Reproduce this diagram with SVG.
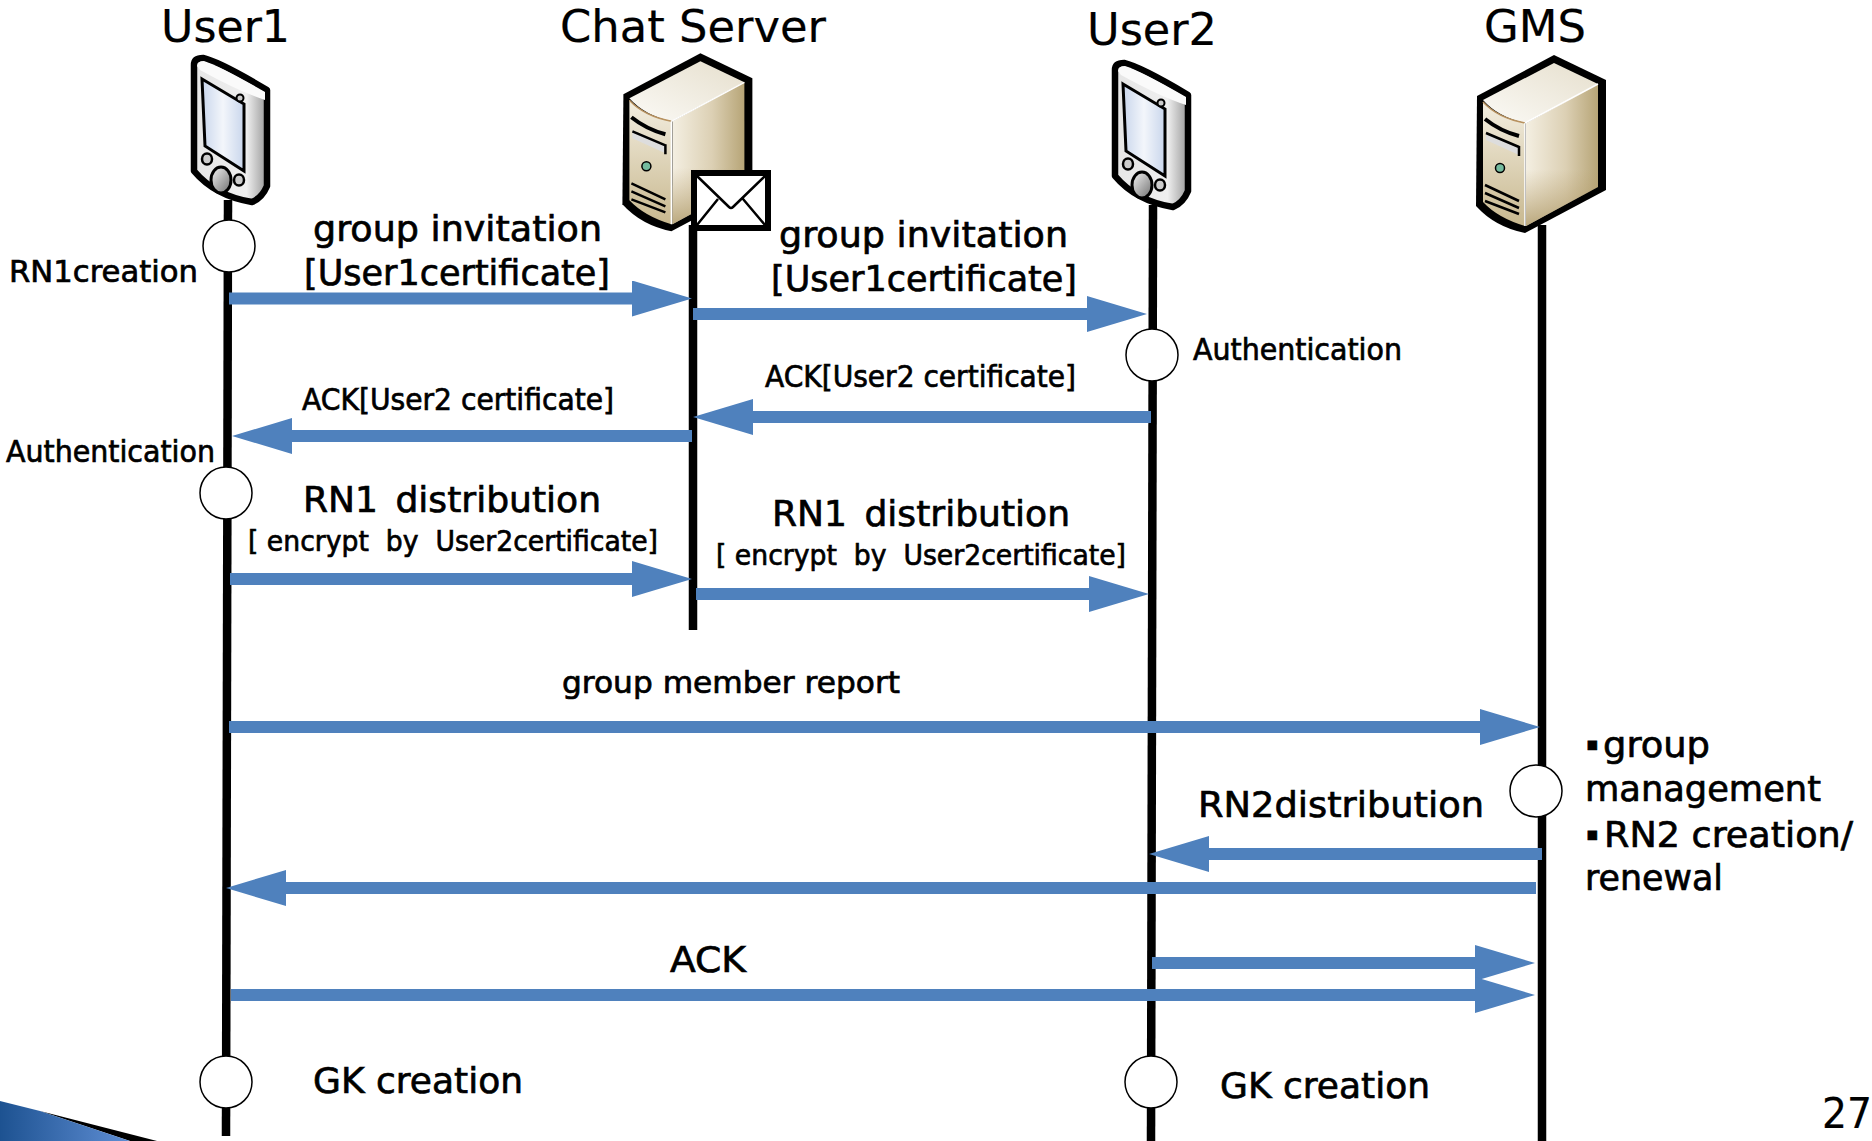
<svg xmlns="http://www.w3.org/2000/svg" width="1872" height="1141" viewBox="0 0 1872 1141">
<style>
text{font-family:"DejaVu Sans","Liberation Sans",sans-serif;fill:#000;stroke:#000;stroke-width:.7}
.h{font-size:44px;stroke-width:.2}.l{font-size:36px}.m{font-size:30px}.s{font-size:28px}
.life{stroke:#000;stroke-width:8.500;fill:none}
.msg{stroke:#4f81bd;stroke-width:12;fill:none;marker-end:url(#ah)}
.ev{fill:#fff;stroke:#000;stroke-width:1.500}
</style>
<defs>
<marker id="ah" markerUnits="userSpaceOnUse" markerWidth="60" markerHeight="36" refX="0" refY="18" orient="auto"><path d="M0 0L60 18L0 36Z" fill="#4f81bd"/></marker>
<linearGradient id="phoneBody" x1="0" x2="1" y1="0" y2="0"><stop offset="0" stop-color="#e6e6e6"/><stop offset=".72" stop-color="#efefef"/><stop offset="1" stop-color="#999"/></linearGradient>
<linearGradient id="phoneScreen" x1="0" x2="1" y1="0" y2="0"><stop offset="0" stop-color="#c9d6ec"/><stop offset=".5" stop-color="#f3f6fb"/><stop offset="1" stop-color="#c9d6ec"/></linearGradient>
<linearGradient id="btn" x1="0" x2="1" y1="0" y2="1"><stop offset="0" stop-color="#f5f5f5"/><stop offset="1" stop-color="#6f6f6f"/></linearGradient>
<linearGradient id="srvSide" x1="0" x2="1" y1="0" y2="0"><stop offset="0" stop-color="#f4efe2"/><stop offset=".55" stop-color="#dcd0b4"/><stop offset="1" stop-color="#b7a577"/></linearGradient>
<linearGradient id="srvFront" x1="0" x2="0" y1="0" y2="1"><stop offset="0" stop-color="#f3eee0"/><stop offset="1" stop-color="#c8b88f"/></linearGradient>
<linearGradient id="srvSide2" x1="0" x2="0" y1="0" y2="1"><stop offset=".6" stop-color="#b8a170" stop-opacity="0"/><stop offset="1" stop-color="#a8925e" stop-opacity=".75"/></linearGradient>
<linearGradient id="srvTop" x1="0" x2="1" y1="1" y2="0"><stop offset="0" stop-color="#fbfaf6"/><stop offset="1" stop-color="#e6dfcd"/></linearGradient>
<linearGradient id="corner" x1="0" x2="1" y1="0" y2="0"><stop offset="0" stop-color="#1d5291"/><stop offset="1" stop-color="#5f8ed4"/></linearGradient>
<g id="phone">
<path d="M24 29Q24 22 33 22Q50 26 97 54V150Q92 162 82 166Q45 160 24 135Z" fill="url(#phoneBody)" stroke="#000" stroke-width="6.500" stroke-linejoin="round"/>
<path d="M27 30Q28 25 34 25Q50 30 95 56V64Q70 56 30 34Z" fill="#fafafa"/>
<path d="M32 43L74 68V135L35 110Z" fill="url(#phoneScreen)" stroke="#000" stroke-width="3"/>
<circle cx="70" cy="62" r="3.500" fill="#ccc" stroke="#000" stroke-width="2"/>
<ellipse cx="37" cy="123" rx="5" ry="5.500" fill="#ccc" stroke="#000" stroke-width="2.500"/>
<ellipse cx="69" cy="144" rx="5" ry="5.500" fill="#ccc" stroke="#000" stroke-width="2.500"/>
<ellipse cx="51" cy="144" rx="10" ry="13" fill="url(#btn)" stroke="#000" stroke-width="3"/>
</g>
<g id="server">
<path d="M17 56L94 15L146 40V150L65 193Q35 187 16 166Z" fill="#000"/>
<path d="M23 60L94 23L138 44L65 83Q38 77 23 60Z" fill="url(#srvTop)"/>
<path d="M23 62Q38 78 65 83V186Q38 178 23 162Z" fill="url(#srvFront)"/>
<path d="M23 62Q38 78 65 83" fill="none" stroke="#b8925f" stroke-width="1.500"/>
<path d="M66 83L138 44V147L66 186Z" fill="url(#srvSide)"/>
<path d="M66 83L138 44V147L66 186Z" fill="url(#srvSide2)"/>
<path d="M65 83L138 44M65 83V186" stroke="#fff" stroke-width="1.500" fill="none"/>
<path d="M25 79Q40 91 59 96" stroke="#000" stroke-width="4" fill="none"/>
<path d="M26 92L59 107V115L26 100Z" fill="#ddd"/>
<path d="M26 93L59 107M59 106V116" stroke="#000" stroke-width="2.500" fill="none"/>
<circle cx="40" cy="128" r="4.500" fill="#74bb9e" stroke="#000" stroke-width="1.500"/>
<path d="M25 145L59 161M25 153L59 168M25 161L59 174" stroke="#000" stroke-width="2.500" fill="none"/>
</g>
</defs>
<rect width="1872" height="1141" fill="#fff"/>
<g id="corner-decoration">
<path d="M40 1111L157 1141H130Z" fill="#000"/>
<path d="M0 1101L40 1111L130 1141H0Z" fill="url(#corner)"/>
</g>
<g id="connectors">
<path class="life" d="M228 200L226 1136"/>
<path class="life" d="M693 225V630"/>
<path class="life" d="M1153 205L1151 1141"/>
<path class="life" d="M1542 225V1141"/>
<path class="msg" d="M229 298.500H632"/>
<path class="msg" d="M693 314H1087"/>
<path class="msg" d="M1151 417H753"/>
<path class="msg" d="M692 436H292"/>
<path class="msg" d="M230 579H632"/>
<path class="msg" d="M696 594H1089"/>
<path class="msg" d="M229 727H1480"/>
<path class="msg" d="M1542 854H1209"/>
<path class="msg" d="M1536 888H286"/>
<path class="msg" d="M1152 963H1475"/>
<path class="msg" d="M231 995H1475"/>
</g>
<g id="user1"><use href="#phone" x="170" y="36"/><text class="h" x="161" y="42" textLength="129" lengthAdjust="spacingAndGlyphs">User1</text></g>
<g id="chat-server"><use href="#server" x="606.400" y="38.300"/><text class="h" x="560" y="42" textLength="266" lengthAdjust="spacingAndGlyphs">Chat Server</text>
<g id="mail"><rect x="694" y="173" width="74" height="55" fill="#fff" stroke="#000" stroke-width="6"/><path d="M697 176L729 207Q731 209 733 207L765 176M697 225L718 199M765 225L743 199" fill="none" stroke="#000" stroke-width="2.500"/></g></g>
<g id="user2"><use href="#phone" x="1091" y="41"/><text class="h" x="1087" y="45" textLength="130" lengthAdjust="spacingAndGlyphs">User2</text></g>
<g id="gms"><use href="#server" x="1460" y="40"/><text class="h" x="1484" y="42" textLength="102" lengthAdjust="spacingAndGlyphs">GMS</text></g>
<g id="events">
<circle class="ev" cx="229" cy="246" r="26"/>
<circle class="ev" cx="226" cy="493" r="26"/>
<circle class="ev" cx="1152" cy="355" r="26"/>
<circle class="ev" cx="1536" cy="791" r="26"/>
<circle class="ev" cx="226" cy="1082" r="26"/>
<circle class="ev" cx="1151" cy="1082" r="26"/>
</g>
<g id="labels">
<text class="l" x="313" y="241" textLength="289" lengthAdjust="spacingAndGlyphs">group invitation</text>
<text class="l" x="304" y="285" textLength="306" lengthAdjust="spacingAndGlyphs">[User1certificate]</text>
<text class="l" x="779" y="247" textLength="289" lengthAdjust="spacingAndGlyphs">group invitation</text>
<text class="l" x="771" y="291" textLength="306" lengthAdjust="spacingAndGlyphs">[User1certificate]</text>
<text class="m" x="9" y="282" textLength="189" lengthAdjust="spacingAndGlyphs">RN1creation</text>
<text class="m" x="1193" y="360" textLength="209" lengthAdjust="spacingAndGlyphs">Authentication</text>
<text class="m" x="6" y="462" textLength="209" lengthAdjust="spacingAndGlyphs">Authentication</text>
<text class="m" x="765" y="387" textLength="311" lengthAdjust="spacingAndGlyphs">ACK[User2 certificate]</text>
<text class="m" x="302" y="410" textLength="312" lengthAdjust="spacingAndGlyphs">ACK[User2 certificate]</text>
<text class="l" x="303" y="512" textLength="298" lengthAdjust="spacingAndGlyphs" style="word-spacing:6px">RN1 distribution</text>
<text class="s" x="248" y="551" textLength="410" lengthAdjust="spacingAndGlyphs" xml:space="preserve">[ encrypt  by  User2certificate]</text>
<text class="l" x="772" y="526" textLength="298" lengthAdjust="spacingAndGlyphs" style="word-spacing:6px">RN1 distribution</text>
<text class="s" x="716" y="565" textLength="410" lengthAdjust="spacingAndGlyphs" xml:space="preserve">[ encrypt  by  User2certificate]</text>
<text class="m" x="562" y="693" textLength="338" lengthAdjust="spacingAndGlyphs">group member report</text>
<text class="l" x="1198" y="817" textLength="286" lengthAdjust="spacingAndGlyphs">RN2distribution</text>
<text class="l" x="670" y="972" textLength="76" lengthAdjust="spacingAndGlyphs">ACK</text>
<text class="l" x="313" y="1093" textLength="210" lengthAdjust="spacingAndGlyphs">GK creation</text>
<text class="l" x="1220" y="1098" textLength="210" lengthAdjust="spacingAndGlyphs">GK creation</text>
<text x="1586" y="750" style="font-size:18px">▪</text>
<text class="l" x="1603" y="757" textLength="107" lengthAdjust="spacingAndGlyphs">group</text>
<text class="l" x="1585" y="801" textLength="236" lengthAdjust="spacingAndGlyphs">management</text>
<text x="1586" y="840" style="font-size:18px">▪</text>
<text class="l" x="1604" y="847" textLength="249" lengthAdjust="spacingAndGlyphs">RN2 creation/</text>
<text class="l" x="1585" y="890" textLength="138" lengthAdjust="spacingAndGlyphs">renewal</text>
<text class="h" x="1822" y="1128" style="font-size:42px" textLength="50" lengthAdjust="spacingAndGlyphs">27</text>
</g>
</svg>
